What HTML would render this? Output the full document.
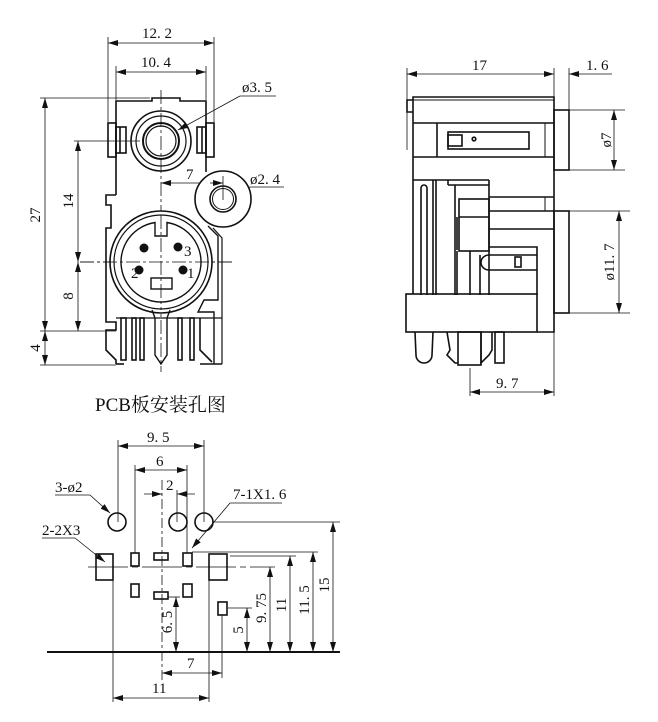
<!DOCTYPE html>
<html><head><meta charset="utf-8">
<style>
html,body{margin:0;padding:0;background:#fff;}
svg{display:block;}
text{font-family:"Liberation Serif",serif;font-size:15px;fill:#111;}
</style></head>
<body>
<svg width="658" height="722" viewBox="0 0 658 722" xmlns="http://www.w3.org/2000/svg">
<defs>
<marker id="a" viewBox="0 0 10 6" refX="10" refY="3" markerWidth="10" markerHeight="6" orient="auto-start-reverse" markerUnits="userSpaceOnUse">
<path d="M0,0 L10,3 L0,6 z" fill="#111"/></marker>
</defs>
<g fill="none" stroke="#111">
<g stroke-width="0.8">
<line x1="108" y1="43" x2="214" y2="43" marker-start="url(#a)" marker-end="url(#a)"/>
<line x1="108" y1="37" x2="108" y2="122"/><line x1="214" y1="37" x2="214" y2="122"/>
<line x1="116" y1="72" x2="206" y2="72" marker-start="url(#a)" marker-end="url(#a)"/>
<line x1="116" y1="66" x2="116" y2="100"/><line x1="206" y1="66" x2="206" y2="100"/>
<line x1="45" y1="98" x2="45" y2="331" marker-start="url(#a)" marker-end="url(#a)"/>
<line x1="45" y1="331" x2="45" y2="365" marker-start="url(#a)" marker-end="url(#a)"/>
<line x1="40" y1="98" x2="150" y2="98"/>
<line x1="40" y1="365" x2="116" y2="365"/>
<line x1="40" y1="331" x2="116" y2="331"/>
<line x1="78" y1="141" x2="78" y2="262" marker-start="url(#a)" marker-end="url(#a)"/>
<line x1="78" y1="262" x2="78" y2="331" marker-start="url(#a)" marker-end="url(#a)"/>
<line x1="74" y1="141" x2="140" y2="141"/>
<line x1="80" y1="262" x2="232" y2="262" stroke-dasharray="14 3 3 3"/>
<line x1="161" y1="90" x2="161" y2="372" stroke-dasharray="14 3 3 3"/>
<line x1="161" y1="183" x2="223" y2="183" marker-start="url(#a)" marker-end="url(#a)"/>
<line x1="178" y1="130" x2="240" y2="96" marker-start="url(#a)"/>
<line x1="240" y1="96" x2="276" y2="96"/>
<line x1="234" y1="194" x2="250" y2="187" marker-start="url(#a)"/>
<line x1="250" y1="187" x2="284" y2="187"/>
</g>
<g stroke-width="1.6">
<path d="M116,195 L116,101 L152,101 L152,98 L180,98 L180,101 L206,101 L206,172"/>
<path d="M116,195 L106,195 L106,205 L111,205 L111,228 L106,228 L106,322 L116,322 L116,330 L106,330 L106,350 L116,360 L116,364"/>
<rect x="108" y="123" width="8" height="34"/><rect x="116" y="127" width="10" height="26"/>
<line x1="120" y1="127" x2="120" y2="153"/>
<rect x="206" y="123" width="8" height="34"/><rect x="197" y="127" width="9" height="26"/>
<line x1="202" y1="127" x2="202" y2="153"/>
<circle cx="161" cy="141" r="30"/><circle cx="161" cy="141" r="25" stroke-width="1.2"/>
<circle cx="161" cy="141" r="18" stroke-width="2"/><circle cx="161" cy="141" r="15" stroke-width="1.2"/>
<!-- small circle tab -->
<circle cx="223" cy="199" r="28" fill="#fff"/>
<line x1="223" y1="176" x2="223" y2="200" stroke-width="0.8"/>
<line x1="210" y1="183" x2="223" y2="183" stroke-width="0.8" marker-end="url(#a)"/>
<circle cx="223" cy="199" r="13" stroke-width="1.6"/><circle cx="223" cy="199" r="10.5" stroke-width="1"/>
<circle cx="161" cy="262" r="51" fill="#fff"/><circle cx="161" cy="262" r="47" stroke-width="1.2"/>
<path d="M155,222.5 A40,40 0 1 0 167,222.5 L167,236 L155,236 Z" stroke-width="1.4"/>
<rect x="151" y="278" width="21" height="11" stroke-width="1.4"/>
<line x1="80" y1="262" x2="232" y2="262" stroke-width="0.8" stroke-dasharray="14 3 3 3"/>
<line x1="161" y1="215" x2="161" y2="310" stroke-width="0.8" stroke-dasharray="14 3 3 3"/>
<path d="M208,226 L218,236 L218,300 L204,300 L198,312 L214,312 L214,364" stroke-width="1.4"/>
<path d="M213,228 L222,238 L222,364" stroke-width="1.2"/>
<path d="M152,310 L155,318 L155,355 L161,364 L167,355 L167,318 L170,310" stroke-width="1.4"/>
<line x1="116" y1="318" x2="222" y2="318" stroke-width="1.2"/>
<rect x="121" y="318" width="5" height="42"/><rect x="132" y="318" width="4" height="42"/><rect x="140" y="318" width="4" height="42"/>
<rect x="178" y="318" width="4" height="42"/><rect x="190" y="318" width="4" height="42"/>
<path d="M200,318 L200,350 L212,362"/>
<line x1="116" y1="364" x2="124" y2="364"/><line x1="200" y1="364" x2="222" y2="364"/>
</g>
<g fill="#111" stroke="none">
<circle cx="144" cy="248" r="4.5"/><circle cx="178" cy="247" r="4.5"/>
<circle cx="139" cy="270" r="4.5"/><circle cx="183" cy="270" r="4.5"/>
</g>

<g stroke-width="0.8">
<line x1="407" y1="74" x2="554" y2="74" marker-start="url(#a)" marker-end="url(#a)"/>
<line x1="407" y1="68" x2="407" y2="150"/><line x1="554" y1="68" x2="554" y2="97"/>
<line x1="569" y1="68" x2="569" y2="110"/>
<line x1="569" y1="74" x2="612" y2="74" marker-start="url(#a)"/>
<line x1="569" y1="110" x2="625" y2="110"/><line x1="569" y1="170" x2="625" y2="170"/>
<line x1="569" y1="211" x2="630" y2="211"/><line x1="569" y1="313" x2="630" y2="313"/>
<line x1="614" y1="110" x2="614" y2="170" marker-start="url(#a)" marker-end="url(#a)"/>
<line x1="619" y1="211" x2="619" y2="313" marker-start="url(#a)" marker-end="url(#a)"/>
<line x1="470" y1="368" x2="470" y2="396"/><line x1="554" y1="332" x2="554" y2="396"/>
<line x1="470" y1="392" x2="554" y2="392" marker-start="url(#a)" marker-end="url(#a)"/>
</g>
<g stroke-width="1.6">
<path d="M413,112 L407,112 L407,100 L413,100 L413,97 L554,97 L554,332 L537,332"/>
<line x1="413" y1="100" x2="413" y2="294"/>
<line x1="413" y1="100" x2="554" y2="100" stroke-width="1"/>
<rect x="554" y="110" width="15" height="60"/><rect x="554" y="211" width="15" height="102"/>
<line x1="413" y1="123" x2="554" y2="123"/>
<line x1="437" y1="123" x2="437" y2="157"/>
<line x1="413" y1="157" x2="554" y2="157"/>
<rect x="448" y="132" width="81" height="17"/>
<line x1="545" y1="123" x2="545" y2="157" stroke-width="1"/>
<rect x="448" y="135" width="14" height="11"/>
<circle cx="474" cy="139" r="1.8"/>
<line x1="413" y1="180" x2="489" y2="180"/>
<line x1="489" y1="180" x2="489" y2="295"/>
<line x1="489" y1="197" x2="554" y2="197"/>
<line x1="545" y1="197" x2="545" y2="211" stroke-width="1"/>
<line x1="489" y1="211" x2="554" y2="211"/>
<line x1="489" y1="229" x2="554" y2="229"/>
<rect x="459" y="199" width="30" height="52"/>
<line x1="459" y1="217" x2="489" y2="217"/>
<line x1="457" y1="217" x2="457" y2="250"/>
<line x1="436" y1="180" x2="436" y2="190"/>
<line x1="448" y1="180" x2="448" y2="185"/>
<line x1="448" y1="185" x2="489" y2="185"/>
<path d="M489,247 L537,247 L537,295"/>
<line x1="489" y1="255" x2="537" y2="255"/>
<line x1="489" y1="270" x2="537" y2="270"/>
<path d="M489,255 A8,7.5 0 0 0 489,270"/>
<rect x="515" y="257" width="6" height="10"/>
<line x1="457" y1="251" x2="457" y2="295"/>
<line x1="470" y1="251" x2="470" y2="295"/>
<line x1="480" y1="255" x2="480" y2="295"/>
<path d="M421,295 L421,188 A3,3 0 0 1 427,188 L427,295"/>
<line x1="433" y1="180" x2="433" y2="295"/>
<line x1="436" y1="190" x2="436" y2="295"/>
<line x1="455" y1="185" x2="455" y2="295"/>
<rect x="406" y="294" width="131" height="38"/>
<path d="M415,332 L416,355 A7,7 0 0 0 432,355 L433,332"/>
<path d="M447,332 L450,350 L447,355 L455,363 L458,363"/>
<rect x="458" y="332" width="23" height="33"/>
<path d="M481,332 L481,363 L489,355 L492,350 L492,332"/>
<rect x="495" y="332" width="9" height="31"/>
</g>

<g stroke-width="0.8">
<line x1="118" y1="446" x2="204" y2="446" marker-start="url(#a)" marker-end="url(#a)"/>
<line x1="118" y1="440" x2="118" y2="522"/><line x1="204" y1="440" x2="204" y2="522"/>
<line x1="135" y1="470" x2="187" y2="470" marker-start="url(#a)" marker-end="url(#a)"/>
<line x1="135" y1="465" x2="135" y2="553"/><line x1="187" y1="465" x2="187" y2="553"/>
<line x1="144" y1="494" x2="162" y2="494" marker-end="url(#a)"/>
<line x1="195" y1="494" x2="177" y2="494" marker-end="url(#a)"/>
<line x1="177" y1="490" x2="177" y2="522"/>
<line x1="162" y1="480" x2="162" y2="682" stroke-dasharray="10 3 3 3"/>
<line x1="88" y1="567" x2="275" y2="567" stroke-dasharray="40 4 6 4"/>
<line x1="55" y1="495" x2="90" y2="495"/><line x1="90" y1="495" x2="110" y2="513" marker-end="url(#a)"/>
<line x1="230" y1="503" x2="282" y2="503"/><line x1="230" y1="503" x2="192" y2="548" marker-end="url(#a)"/>
<line x1="42" y1="538" x2="75" y2="538"/><line x1="75" y1="538" x2="105" y2="562" marker-end="url(#a)"/>
<line x1="212" y1="522" x2="340" y2="522"/>
<line x1="192" y1="552" x2="318" y2="552"/>
<line x1="230" y1="556" x2="296" y2="556"/>
<line x1="168" y1="597" x2="180" y2="597"/>
<line x1="228" y1="608" x2="252" y2="608"/>
<line x1="176" y1="597" x2="176" y2="652" marker-start="url(#a)" marker-end="url(#a)"/>
<line x1="247" y1="608" x2="247" y2="652" marker-start="url(#a)" marker-end="url(#a)"/>
<line x1="270" y1="567" x2="270" y2="652" marker-start="url(#a)" marker-end="url(#a)"/>
<line x1="290" y1="556" x2="290" y2="652" marker-start="url(#a)" marker-end="url(#a)"/>
<line x1="313" y1="552" x2="313" y2="652" marker-start="url(#a)" marker-end="url(#a)"/>
<line x1="333" y1="522" x2="333" y2="652" marker-start="url(#a)" marker-end="url(#a)"/>
<line x1="222" y1="615" x2="222" y2="678"/>
<line x1="162" y1="673" x2="222" y2="673" marker-start="url(#a)" marker-end="url(#a)"/>
<line x1="113" y1="580" x2="113" y2="702"/><line x1="209" y1="580" x2="209" y2="702"/>
<line x1="113" y1="698" x2="209" y2="698" marker-start="url(#a)" marker-end="url(#a)"/>
</g>
<line x1="47" y1="652" x2="340" y2="652" stroke-width="2"/>
<g stroke-width="1.6">
<circle cx="117" cy="522" r="9"/><circle cx="178" cy="522" r="9"/><circle cx="204" cy="522" r="9"/>
<rect x="96" y="554" width="17" height="26"/><rect x="209" y="554" width="18" height="26"/>
<rect x="131" y="553" width="8" height="13"/><rect x="183" y="553" width="9" height="13"/>
<rect x="154" y="553" width="14" height="7"/>
<rect x="131" y="584" width="8" height="13"/><rect x="183" y="584" width="9" height="13"/>
<rect x="154" y="592" width="14" height="7"/>
<rect x="218" y="602" width="9" height="13"/>
</g>
</g>

<text x="142" y="38">12. 2</text>
<text x="141" y="67">10. 4</text>
<text x="242" y="92">ø3. 5</text>
<text x="186" y="179">7</text>
<text x="250" y="184">ø2. 4</text>
<text x="184" y="256" font-size="10">3</text>
<text x="187" y="278" font-size="10">1</text>
<text x="131" y="278" font-size="10">2</text>
<text transform="translate(40,215) rotate(-90)" text-anchor="middle">27</text>
<text transform="translate(73,201) rotate(-90)" text-anchor="middle">14</text>
<text transform="translate(73,296) rotate(-90)" text-anchor="middle">8</text>
<text transform="translate(40,348) rotate(-90)" text-anchor="middle">4</text>
<text x="472" y="70">17</text>
<text x="586" y="70">1. 6</text>
<text transform="translate(611,140) rotate(-90)" text-anchor="middle" font-size="14">ø7</text>
<text transform="translate(614,262) rotate(-90)" text-anchor="middle">ø11. 7</text>
<text x="496" y="388">9. 7</text>
<text x="95" y="411" style="font-size:19px;font-family:'Liberation Serif','Noto Serif CJK SC',serif">PCB板安装孔图</text>
<text x="147" y="442">9. 5</text>
<text x="156" y="466">6</text>
<text x="166" y="490">2</text>
<text x="55" y="492">3-ø2</text>
<text x="233" y="499" font-size="13">7-1X1. 6</text>
<text x="42" y="535" font-size="13">2-2X3</text>
<text transform="translate(172,622) rotate(-90)" text-anchor="middle">6. 5</text>
<text transform="translate(243,630) rotate(-90)" text-anchor="middle">5</text>
<text transform="translate(266,608) rotate(-90)" text-anchor="middle">9. 75</text>
<text transform="translate(286,605) rotate(-90)" text-anchor="middle">11</text>
<text transform="translate(309,600) rotate(-90)" text-anchor="middle">11. 5</text>
<text transform="translate(329,585) rotate(-90)" text-anchor="middle">15</text>
<text x="187" y="668">7</text>
<text x="152" y="693">11</text>
</svg>
</body></html>
